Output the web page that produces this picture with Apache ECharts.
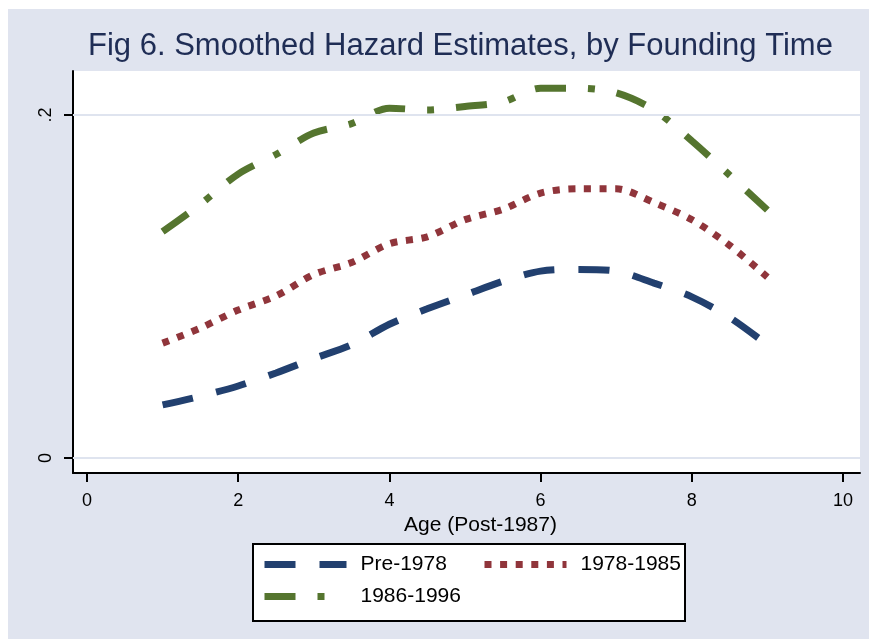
<!DOCTYPE html>
<html>
<head>
<meta charset="utf-8">
<title>Fig 6</title>
<script src="https://cdn.jsdelivr.net/npm/echarts@6.0.0/dist/echarts.min.js"></script>
<style>
	html, body { margin: 0; padding: 0; background: #fff; }
	#chart { width: 869px; height: 639px; }
</style>
</head>
<body>
<div id="chart"></div>
<script>
var ages = [1, 1.5, 2, 2.5, 3, 3.5, 4, 4.5, 5, 5.5, 6, 6.5, 7, 7.5, 8, 8.5, 9];
var pre1978 = [0.031, 0.036, 0.042, 0.0496, 0.058, 0.066, 0.078, 0.087, 0.095, 0.103, 0.109, 0.110, 0.109, 0.102, 0.094, 0.082, 0.066];
var y1978to1985 = [0.067, 0.0758, 0.0863, 0.0945, 0.107, 0.114, 0.125, 0.129, 0.139, 0.145, 0.1545, 0.157, 0.157, 0.149, 0.139, 0.124, 0.1055];
var y1986to1996 = [0.132, 0.148, 0.1656, 0.177, 0.1895, 0.195, 0.204, 0.203, 0.205, 0.2076, 0.2157, 0.2157, 0.213, 0.203, 0.185, 0.165, 0.1446];

var seriesNames = ['Pre-1978', '1978-1985', '1986-1996'];
var xTicks = [0, 2, 4, 6, 8, 10];
var yTicks = [0, 0.2];
var yTickLabels = ['0', '.2'];

var font = "'Liberation Sans', Arial, sans-serif";

function pairs(ys) {
	return ages.map(function (a, i) { return [a, ys[i]]; });
}

function lineSeries(name, ys, color, dash) {
	return {
		name: name,
		type: 'line',
		data: pairs(ys),
		symbol: 'none',
		smooth: 0.3,
		lineStyle: { color: color, width: 7, type: dash, cap: 'butt' },
		itemStyle: { color: color },
		z: 3
	};
}

// one legend per entry so each sits where Stata put it
function legendAt(name, left, top) {
	return {
		data: [name],
		left: left,
		top: top,
		padding: 0,
		itemWidth: 82,
		itemHeight: 7,
		selectedMode: false,
		lineStyle: { width: 7 },
		itemStyle: { opacity: 0 },
		textStyle: { fontFamily: font, fontSize: 21, color: '#000', padding: [0, 0, 0, 9] }
	};
}

var chart = echarts.init(document.getElementById('chart'), null, { renderer: 'canvas' });

chart.setOption({
	animation: false,
	backgroundColor: '#fff',
	textStyle: { fontFamily: font },
	title: {
		text: 'Fig 6. Smoothed Hazard Estimates, by Founding Time',
		left: 88,
		top: 31,
		padding: 0,
		textStyle: { fontFamily: font, fontSize: 31, fontWeight: 'normal', color: '#1f2d55' }
	},
	graphic: [
		// outer graph region
		{ type: 'rect', left: 8, top: 9, shape: { width: 861, height: 630 }, style: { fill: '#e0e4ef' }, z: -10, silent: true },
		// legend box
		{ type: 'rect', left: 252, top: 543, shape: { width: 432, height: 77 }, style: { fill: '#fff', stroke: '#000', lineWidth: 2 }, z: 1, silent: true }
	],
	grid: {
		left: 73, top: 71, width: 787, height: 402,
		show: true, backgroundColor: '#fff', borderWidth: 0
	},
	xAxis: {
		type: 'value',
		min: -0.185,
		max: 10.225,
		name: 'Age (Post-1987)',
		nameLocation: 'middle',
		nameGap: 37,
		nameTextStyle: { fontFamily: font, fontSize: 21, color: '#000', padding: [0, 0, 0, 28] },
		axisLine: { onZero: false, lineStyle: { color: '#000', width: 2 } },
		axisTick: { show: true, customValues: xTicks, length: 9, lineStyle: { color: '#000', width: 2 } },
		axisLabel: { customValues: xTicks, fontSize: 18, color: '#000', margin: 19, fontFamily: font },
		splitLine: { show: false }
	},
	yAxis: {
		type: 'value',
		min: -0.00875,
		max: 0.2257,
		axisLine: { show: true, onZero: false, lineStyle: { color: '#000', width: 2 } },
		axisTick: { show: true, customValues: yTicks, length: 9, lineStyle: { color: '#000', width: 2 } },
		axisLabel: {
			customValues: yTicks,
			rotate: 90,
			fontSize: 18,
			color: '#000',
			margin: 18,
			fontFamily: font,
			formatter: function (v) {
				var i = yTicks.indexOf(v);
				return i >= 0 ? yTickLabels[i] : '';
			}
		},
		splitLine: { show: false }
	},
	legend: [
		legendAt(seriesNames[0], 261, 554),
		legendAt(seriesNames[1], 481, 554),
		legendAt(seriesNames[2], 261, 586)
	],
	series: [
		// grid lines at the labelled y ticks
		{
			type: 'line',
			data: [],
			silent: true,
			markLine: {
				silent: true,
				symbol: 'none',
				label: { show: false },
				lineStyle: { color: '#dfe4ef', width: 2, type: 'solid' },
				data: yTicks.map(function (v) { return { yAxis: v }; })
			},
			z: 1
		},
		lineSeries(seriesNames[0], pre1978, '#22406f', [31, 24]),
		lineSeries(seriesNames[1], y1978to1985, '#90353b', [7, 8.6]),
		lineSeries(seriesNames[2], y1986to1996, '#55752f', [31, 22, 7, 22])
	]
});
</script>
</body>
</html>
